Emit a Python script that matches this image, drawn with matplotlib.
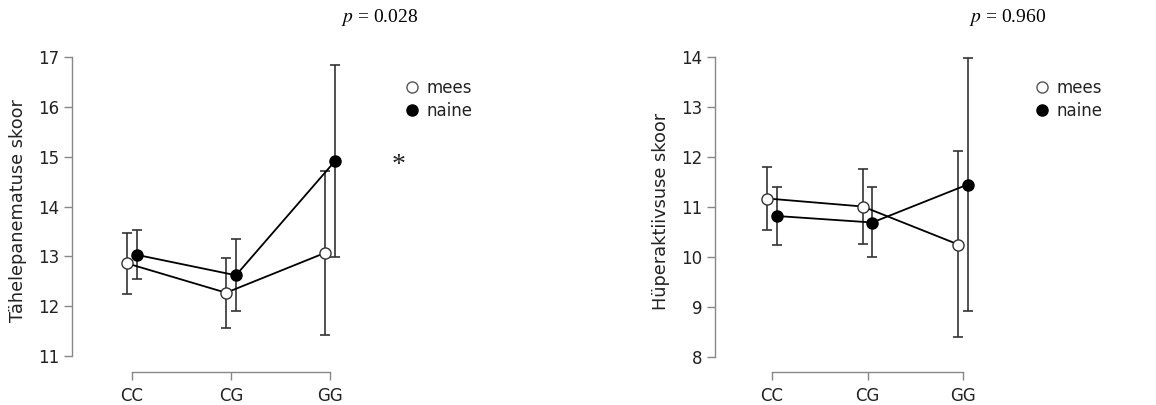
import matplotlib.pyplot as plt
import numpy as np
from matplotlib.lines import Line2D

genotypes = ["CC", "CG", "GG"]

# left panel: Tähelepanematuse skoor
att_mees = [12.86, 12.27, 13.07]
att_mees_lo = [12.24, 11.57, 11.42]
att_mees_hi = [13.47, 12.97, 14.72]
att_naine = [13.03, 12.62, 14.91]
att_naine_lo = [12.55, 11.90, 12.98]
att_naine_hi = [13.52, 13.35, 16.83]

# right panel: Hüperaktiivsuse skoor
hyp_mees = [11.17, 11.01, 10.25]
hyp_mees_lo = [10.55, 10.27, 8.40]
hyp_mees_hi = [11.80, 11.76, 12.12]
hyp_naine = [10.82, 10.69, 11.45]
hyp_naine_lo = [10.24, 10.00, 8.93]
hyp_naine_hi = [11.40, 11.40, 13.98]

W, H = 1156, 405
fig = plt.figure(figsize=(W / 100, H / 100), dpi=100)
plt.rcParams['font.family'] = ['DejaVu Sans']


def px_axes(x0, y0, x1, y1):
    return fig.add_axes([x0 / W, 1 - y1 / H, (x1 - x0) / W, (y1 - y0) / H])


def panel(ax, mees, mlo, mhi, naine, nlo, nhi, xlim, ylim, yb, ylabel):
    x = np.arange(len(genotypes))
    d = 0.05
    m = np.array(mees); n = np.array(naine)
    ax.errorbar(x - d, m, yerr=[m - np.array(mlo), np.array(mhi) - m], fmt='none',
                ecolor='#333333', elinewidth=1.2, capsize=3.8, capthick=1.2, zorder=2)
    ax.errorbar(x + d, n, yerr=[n - np.array(nlo), np.array(nhi) - n], fmt='none',
                ecolor='#333333', elinewidth=1.2, capsize=3.8, capthick=1.2, zorder=2)
    ax.plot(x - d, m, color='black', lw=1.3, marker='o', ms=8, mfc='white',
            mec='#333333', mew=1.0, zorder=3)
    ax.plot(x + d, n, color='black', lw=1.3, marker='o', ms=8, mfc='black',
            mec='black', zorder=4)
    ax.set_xlim(*xlim)
    ax.set_ylim(*ylim)
    for s in ['top', 'right']:
        ax.spines[s].set_visible(False)
    ax.spines['left'].set_bounds(*yb)
    ax.spines['bottom'].set_bounds(0, 2)
    for s in ['left', 'bottom']:
        ax.spines[s].set_color('#888888')
        ax.spines[s].set_linewidth(1.0)
    ax.set_xticks(x)
    ax.set_xticklabels(genotypes)
    ax.set_yticks(np.arange(yb[0], yb[1] + 1))
    ax.tick_params(axis='both', colors='#888888', length=5.5, width=1.0,
                   labelcolor='#222222', labelsize=12)
    ax.tick_params(axis='x', pad=5)
    ax.set_ylabel(ylabel, fontsize=12.8, color='#222222', labelpad=8)
    ax.patch.set_alpha(0)


ax1 = px_axes(72, 50, 360, 372)
panel(ax1, att_mees, att_mees_lo, att_mees_hi, att_naine, att_naine_lo, att_naine_hi,
      (-0.606, 2.303), (10.68, 17.14), (11, 17), "Tähelepanematuse skoor")

ax2 = px_axes(715, 50, 1000, 372)
panel(ax2, hyp_mees, hyp_mees_lo, hyp_mees_hi, hyp_naine, hyp_naine_lo, hyp_naine_hi,
      (-0.597, 2.387), (7.7, 14.14), (8, 14), "Hüperaktiivsuse skoor")

# p-values
fig.text(380 / W, 1 - 17 / H, "$p$ = 0.028", ha='center', va='center',
         fontsize=14, family='Liberation Serif', math_fontfamily='stix')
fig.text(1008 / W, 1 - 17 / H, "$p$ = 0.960", ha='center', va='center',
         fontsize=14, family='Liberation Serif', math_fontfamily='stix')

# significance star
fig.text(399 / W, 1 - 166 / H, "*", ha='center', va='center', fontsize=20,
         family='Liberation Serif', color='#222222')

handles = [
    Line2D([], [], ls='none', marker='o', ms=8, mfc='white', mec='#555555', mew=1.0),
    Line2D([], [], ls='none', marker='o', ms=8, mfc='black', mec='black'),
]
for lx in (397, 1027):
    fig.legend(handles, ["mees", "naine"], loc='upper left',
               bbox_to_anchor=(lx / W, 1 - 71 / H), frameon=False, fontsize=12,
               handlelength=0.8, handletextpad=0.45, labelspacing=0.25,
               borderpad=0, labelcolor='#222222')

plt.savefig("out.png", dpi=100)
